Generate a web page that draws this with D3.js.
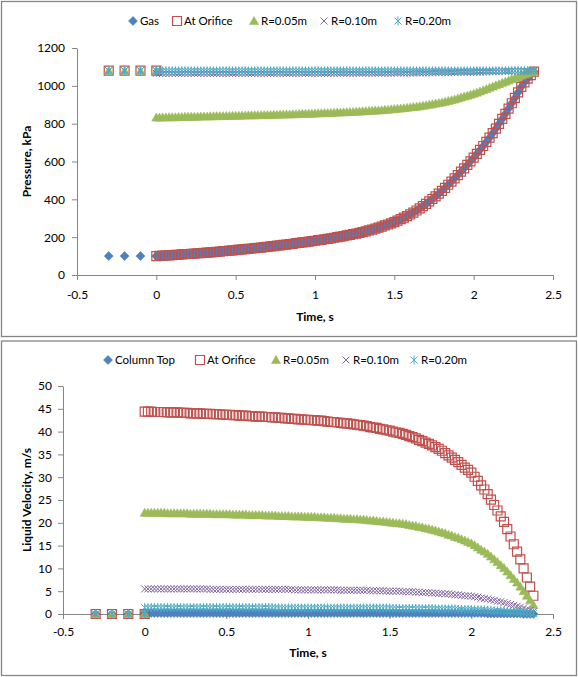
<!DOCTYPE html>
<html><head><meta charset="utf-8">
<script src="https://cdn.jsdelivr.net/npm/d3@7"></script>
<style>
body{margin:0;background:#fff}
svg{display:block}
text{font-family:Lato,'Open Sans',sans-serif;fill:#000}
</style>
</head><body>
<svg id="c" width="578" height="677"></svg>
<script>
// ---------- DATA ----------
const preTimes = [-0.3, -0.2, -0.1, 0];
const times = [
0,0.02,0.04,0.06,0.08,0.1,0.12,0.14,0.16,0.18,
0.2,0.22,0.24,0.26,0.28,0.3,0.32,0.34,0.36,0.38,
0.4,0.42,0.44,0.46,0.48,0.5,0.52,0.54,0.56,0.58,
0.6,0.62,0.64,0.66,0.68,0.7,0.72,0.74,0.76,0.78,
0.8,0.82,0.84,0.86,0.88,0.9,0.92,0.94,0.96,0.98,
1,1.02,1.04,1.06,1.08,1.1,1.12,1.14,1.16,1.18,
1.2,1.22,1.24,1.26,1.28,1.3,1.32,1.34,1.36,1.38,
1.4,1.42,1.44,1.46,1.48,1.5,1.52,1.54,1.56,1.58,
1.6,1.62,1.64,1.66,1.68,1.7,1.72,1.74,1.76,1.78,
1.8,1.82,1.84,1.86,1.88,1.9,1.92,1.94,1.96,1.98,
2,2.02,2.04,2.06,2.08,2.1,2.12,2.14,2.16,2.18,
2.2,2.22,2.24,2.26,2.28,2.3,2.32,2.34,2.36,2.38];

// Pressure chart (kPa)
const prePressureGas = [100, 100, 100, 100];
const prePressureLiquid = [1080, 1080, 1080, 1080];
const orificePressure = [
100,101,102,103,104,105,106,107,109,110,
111,112,113,115,116,117,118,120,121,123,
124,126,127,129,130,132,134,135,137,138,
140,142,144,145,147,149,151,153,155,157,
159,161,163,165,168,170,172,174,176,179,
181,184,186,189,191,194,197,200,203,206,
209,212,216,219,223,227,231,236,240,245,
250,256,262,267,273,280,287,295,303,311,
320,330,341,352,364,376,389,402,416,430,
445,461,477,494,511,528,546,564,582,601,
620,640,661,682,704,726,750,774,799,825,
852,880,908,936,965,995,1018,1038,1057,1075];
const gasPressure = [
100,101,102,103,104,105,106,107,109,110,
111,112,113,115,116,117,118,120,121,123,
124,126,127,129,130,132,134,135,137,138,
140,142,144,145,147,149,151,153,155,157,
159,161,163,165,168,170,172,174,176,179,
181,184,186,189,191,194,197,200,203,206,
209,212,216,219,223,227,231,236,240,245,
250,256,262,267,273,280,287,295,303,311,
320,330,341,352,364,376,389,402,416,430,
445,461,477,494,511,528,546,564,582,601,
620,640,661,682,704,726,750,774,799,825,
852,880,908,936,965,995,1018,1038,1057,1075];
const r05Pressure = [
832,832,833,833,834,834,834,835,835,836,
836,836,837,837,838,838,838,839,839,840,
840,840,841,841,842,842,842,843,843,844,
844,844,845,845,846,846,846,847,847,848,
848,849,849,850,850,851,852,852,853,853,
854,855,855,856,856,857,858,859,859,860,
861,862,862,863,864,865,866,867,868,869,
870,871,873,874,876,877,879,880,882,884,
886,888,890,892,895,897,900,903,906,909,
912,916,920,924,928,933,938,943,948,953,
958,964,970,977,983,990,996,1003,1009,1016,
1022,1028,1035,1041,1048,1054,1060,1065,1070,1075];
const r10Pressure = [
1066,1066,1066,1066,1066,1066,1066,1066,1066,1066,
1066,1066,1066,1066,1066,1066,1066,1066,1066,1066,
1066,1066,1066,1066,1066,1066,1066,1066,1066,1066,
1066,1066,1066,1066,1066,1066,1066,1066,1066,1066,
1066,1066,1066,1066,1066,1066,1066,1066,1066,1066,
1066,1066,1066,1066,1066,1067,1067,1067,1067,1067,
1067,1067,1067,1067,1067,1067,1067,1067,1067,1067,
1067,1067,1067,1067,1067,1068,1068,1068,1068,1068,
1068,1068,1068,1069,1069,1069,1069,1069,1070,1070,
1070,1070,1070,1071,1071,1071,1071,1072,1072,1072,
1072,1073,1073,1074,1074,1075,1075,1076,1076,1077,
1077,1077,1078,1078,1078,1079,1079,1079,1080,1080];
const r20Pressure = [
1079,1079,1079,1079,1079,1079,1079,1079,1079,1079,
1079,1079,1079,1079,1079,1079,1079,1079,1079,1079,
1079,1079,1079,1079,1079,1079,1079,1079,1079,1079,
1079,1079,1079,1079,1079,1079,1079,1079,1079,1079,
1079,1079,1079,1079,1079,1079,1079,1079,1079,1079,
1079,1079,1079,1079,1079,1079,1079,1079,1079,1079,
1079,1079,1079,1079,1079,1079,1079,1079,1079,1079,
1079,1079,1079,1079,1079,1079,1079,1079,1079,1079,
1079,1079,1079,1079,1079,1079,1079,1079,1079,1079,
1079,1079,1079,1079,1079,1079,1079,1079,1079,1079,
1079,1079,1079,1079,1079,1079,1079,1079,1079,1079,
1080,1080,1080,1080,1080,1080,1080,1080,1080,1080];

// Velocity chart (m/s)
const preVelocity = [0, 0, 0, 0];
const orificeVelocity = [
44.4,44.4,44.4,44.3,44.3,44.3,44.3,44.2,44.2,44.2,
44.2,44.1,44.1,44.1,44.0,44.0,44.0,44.0,43.9,43.9,
43.9,43.8,43.8,43.8,43.7,43.7,43.7,43.6,43.6,43.5,
43.5,43.5,43.4,43.4,43.3,43.3,43.3,43.2,43.2,43.1,
43.1,43.0,43.0,42.9,42.9,42.8,42.8,42.7,42.7,42.6,
42.6,42.5,42.5,42.4,42.4,42.3,42.2,42.1,42.1,42.0,
41.9,41.8,41.8,41.7,41.6,41.5,41.4,41.3,41.2,41.0,
40.9,40.8,40.6,40.5,40.3,40.2,40.0,39.8,39.7,39.5,
39.3,39.0,38.8,38.5,38.2,37.9,37.6,37.3,37.0,36.6,
36.2,35.8,35.3,34.8,34.3,33.8,33.3,32.7,32.1,31.6,
31.0,30.1,29.2,28.2,27.3,26.3,25.1,23.9,22.7,21.4,
20.2,18.6,17.0,15.3,13.7,12.0,10.0,8.0,6.0,4.0];
const r05Velocity = [
22.2,22.2,22.2,22.2,22.2,22.2,22.2,22.1,22.1,22.1,
22.1,22.1,22.1,22.1,22.0,22.0,22.0,22.0,22.0,22.0,
22.0,21.9,21.9,21.9,21.9,21.9,21.9,21.8,21.8,21.8,
21.8,21.8,21.7,21.7,21.7,21.7,21.7,21.6,21.6,21.6,
21.6,21.5,21.5,21.5,21.5,21.4,21.4,21.4,21.4,21.3,
21.3,21.3,21.3,21.2,21.2,21.2,21.1,21.1,21.1,21.0,
21.0,20.9,20.9,20.9,20.8,20.8,20.7,20.7,20.6,20.5,
20.5,20.4,20.3,20.3,20.2,20.1,20.0,19.9,19.9,19.8,
19.7,19.5,19.4,19.3,19.1,19.0,18.8,18.7,18.5,18.3,
18.1,17.9,17.7,17.4,17.2,16.9,16.7,16.4,16.1,15.8,
15.5,15.1,14.6,14.1,13.7,13.2,12.6,12.0,11.4,10.7,
10.1,9.3,8.5,7.7,6.9,6.0,5.0,4.0,3.0,2.0];
const r10Velocity = [
5.5,5.5,5.5,5.5,5.5,5.5,5.5,5.5,5.5,5.5,
5.5,5.5,5.5,5.5,5.5,5.5,5.5,5.5,5.5,5.5,
5.4,5.4,5.4,5.4,5.4,5.4,5.4,5.4,5.4,5.4,
5.4,5.4,5.4,5.4,5.4,5.4,5.4,5.4,5.4,5.4,
5.4,5.4,5.4,5.4,5.4,5.4,5.3,5.3,5.3,5.3,
5.3,5.3,5.3,5.3,5.3,5.3,5.3,5.3,5.3,5.3,
5.2,5.2,5.2,5.2,5.2,5.2,5.2,5.2,5.2,5.1,
5.1,5.1,5.1,5.1,5.0,5.0,5.0,5.0,5.0,4.9,
4.9,4.9,4.9,4.8,4.8,4.7,4.7,4.7,4.6,4.6,
4.5,4.5,4.4,4.4,4.3,4.2,4.2,4.1,4.0,4.0,
3.9,3.8,3.7,3.5,3.4,3.3,3.1,3.0,2.8,2.7,
2.5,2.3,2.1,1.9,1.7,1.5,1.3,1.0,0.8,0.5];
const r20Velocity = [
1.4,1.4,1.4,1.4,1.4,1.4,1.4,1.4,1.4,1.4,
1.4,1.4,1.4,1.4,1.4,1.4,1.4,1.4,1.4,1.4,
1.4,1.4,1.4,1.4,1.4,1.4,1.4,1.4,1.4,1.4,
1.4,1.4,1.4,1.4,1.4,1.4,1.4,1.4,1.4,1.4,
1.3,1.3,1.3,1.3,1.3,1.3,1.3,1.3,1.3,1.3,
1.3,1.3,1.3,1.3,1.3,1.3,1.3,1.3,1.3,1.3,
1.3,1.3,1.3,1.3,1.3,1.3,1.3,1.3,1.3,1.3,
1.3,1.3,1.3,1.3,1.3,1.3,1.2,1.2,1.2,1.2,
1.2,1.2,1.2,1.2,1.2,1.2,1.2,1.2,1.2,1.1,
1.1,1.1,1.1,1.1,1.1,1.1,1.0,1.0,1.0,1.0,
1.0,0.9,0.9,0.9,0.9,0.8,0.8,0.7,0.7,0.7,
0.6,0.6,0.5,0.5,0.5,0.4,0.3,0.3,0.2,0.1];
const columnTopVelocity = [
0.2,0.2,0.2,0.2,0.2,0.2,0.2,0.2,0.2,0.2,
0.2,0.2,0.2,0.2,0.2,0.2,0.2,0.2,0.2,0.2,
0.2,0.2,0.2,0.2,0.2,0.2,0.2,0.2,0.2,0.2,
0.2,0.2,0.2,0.2,0.2,0.2,0.2,0.2,0.2,0.2,
0.2,0.2,0.2,0.2,0.2,0.2,0.2,0.2,0.2,0.2,
0.2,0.2,0.2,0.2,0.2,0.2,0.2,0.2,0.2,0.2,
0.2,0.2,0.2,0.2,0.2,0.2,0.2,0.2,0.2,0.2,
0.2,0.2,0.2,0.2,0.2,0.2,0.2,0.2,0.2,0.2,
0.2,0.2,0.2,0.2,0.2,0.2,0.2,0.2,0.2,0.2,
0.2,0.2,0.2,0.2,0.2,0.2,0.2,0.2,0.2,0.2,
0.2,0.2,0.2,0.2,0.2,0.1,0.1,0.1,0.1,0.1,
0.1,0.1,0.1,0.1,0.1,0.1,0.0,0.0,0.0,0.0];

const xTicks = [-0.5, 0, 0.5, 1, 1.5, 2, 2.5];
const pressureTicks = [0, 200, 400, 600, 800, 1000, 1200];
const velocityTicks = [0, 5, 10, 15, 20, 25, 30, 35, 40, 45, 50];
const topLegend = ["Gas", "At Orifice", "R=0.05m", "R=0.10m", "R=0.20m"];
const bottomLegend = ["Column Top", "At Orifice", "R=0.05m", "R=0.10m", "R=0.20m"];

// ---------- STYLE ----------
const COLORS = ["#4F81BD", "#C0504D", "#9BBB59", "#8064A2", "#4BACC6"];
const SHAPES = ["diamond", "square", "triangle", "cross", "star"];
const AXIS = "#868686";

function markerPath(shape) {
  switch (shape) {
    case "diamond": return "M0,-4.5L4.5,0L0,4.5L-4.5,0Z";
    case "square": return "M-4.5,-4.5H4.5V4.5H-4.5Z";
    case "triangle": return "M0,-4.5L4.5,3.5L-4.5,3.5Z";
    case "cross": return "M-3.5,-3.5L3.5,3.5M-3.5,3.5L3.5,-3.5";
    case "star": return "M-3.5,-3.5L3.5,3.5M-3.5,3.5L3.5,-3.5M0,-4.5V4.5";
  }
}
function styleMarker(sel, i) {
  const s = SHAPES[i], c = COLORS[i];
  sel.attr("d", markerPath(s));
  if (s === "diamond" || s === "triangle") sel.attr("fill", c).attr("stroke", c).attr("stroke-width", 0.6);
  else if (s === "square") sel.attr("fill", "none").attr("stroke", c).attr("stroke-width", 1.2);
  else sel.attr("fill", "none").attr("stroke", c).attr("stroke-width", 1);
}

const svg = d3.select("#c");

function drawChart(spec) {
  const g = svg.append("g");
  g.append("rect").attr("x", 1.5).attr("y", spec.panel[0]).attr("width", 575)
    .attr("height", spec.panel[1] - spec.panel[0]).attr("fill", "#fff")
    .attr("stroke", AXIS).attr("stroke-width", 1.3);

  const x = d3.scaleLinear().domain([-0.5, 2.5]).range(spec.xRange);
  const y = d3.scaleLinear().domain(spec.yDomain).range(spec.yRange);

  // axes
  const ya = g.append("g").attr("transform", `translate(${spec.xRange[0]},0)`)
    .call(d3.axisLeft(y).tickValues(spec.yTicks).tickSize(5).tickSizeOuter(0)
      .tickPadding(spec.yPad).tickFormat(d => String(d)));
  const xa = g.append("g").attr("transform", `translate(0,${spec.yRange[0]})`)
    .call(d3.axisBottom(x).tickValues(xTicks).tickSize(5).tickSizeOuter(0)
      .tickFormat(d => String(d)));
  [ya, xa].forEach(a => {
    a.select(".domain").attr("stroke", AXIS).attr("stroke-width", 1);
    a.selectAll(".tick line").attr("stroke", AXIS);
    a.selectAll("text").attr("font-size", 12).attr("font-family", "Lato,'Open Sans',sans-serif").attr("fill", "#000");
  });
  xa.selectAll("text").attr("y", spec.xLabelOff).attr("dy", "0.35em");

  // series
  spec.series.forEach((s, i) => {
    const pts = s.pre.map((v, k) => ({ t: preTimes[k], v }))
      .concat(s.values.map((v, k) => ({ t: times[k], v })));
    g.append("g").selectAll("path").data(pts).join("path")
      .attr("transform", d => `translate(${x(d.t)},${y(d.v)})`)
      .call(sel => styleMarker(sel, i));
  });

  // legend
  spec.legend.forEach((name, i) => {
    const lg = g.append("g");
    lg.append("path").attr("transform", `translate(${spec.legendX[i]},${spec.legendY})`).call(sel => styleMarker(sel, i));
    lg.append("text").attr("x", spec.legendX[i] + 7).attr("y", spec.legendY).attr("dy", "0.35em")
      .attr("font-size", 11.5).text(name);
  });

  // titles
  g.append("text").attr("x", (spec.xRange[0] + spec.xRange[1]) / 2).attr("y", spec.xTitleY)
    .attr("dy", "0.35em").attr("text-anchor", "middle").attr("font-size", 12).attr("font-weight", "bold").text("Time, s");
  const ym = (spec.yRange[0] + spec.yRange[1]) / 2;
  g.append("text").attr("transform", `translate(27,${ym}) rotate(-90)`)
    .attr("dy", "0.35em").attr("text-anchor", "middle").attr("font-size", 12).attr("font-weight", "bold").text(spec.yTitle);
}

drawChart({
  panel: [1.5, 336.5],
  xRange: [77, 553], yDomain: [0, 1200], yRange: [275, 48],
  yTicks: pressureTicks, yPad: 7, xLabelOff: 20, xTitleY: 317,
  yTitle: "Pressure, kPa",
  legend: topLegend, legendX: [133, 177, 254, 324, 398], legendY: 21,
  series: [
    { pre: prePressureGas, values: gasPressure },
    { pre: prePressureLiquid, values: orificePressure },
    { pre: prePressureLiquid, values: r05Pressure },
    { pre: prePressureLiquid, values: r10Pressure },
    { pre: prePressureLiquid, values: r20Pressure }
  ]
});

drawChart({
  panel: [341, 675.5],
  xRange: [63, 553], yDomain: [0, 50], yRange: [614, 386],
  yTicks: velocityTicks, yPad: 6, xLabelOff: 18, xTitleY: 653,
  yTitle: "Liquid Velocity, m/s",
  legend: bottomLegend, legendX: [108, 200, 276, 346, 414], legendY: 360,
  series: [
    { pre: preVelocity, values: columnTopVelocity },
    { pre: preVelocity, values: orificeVelocity },
    { pre: preVelocity, values: r05Velocity },
    { pre: preVelocity, values: r10Velocity },
    { pre: preVelocity, values: r20Velocity }
  ]
});
</script>
</body></html>
